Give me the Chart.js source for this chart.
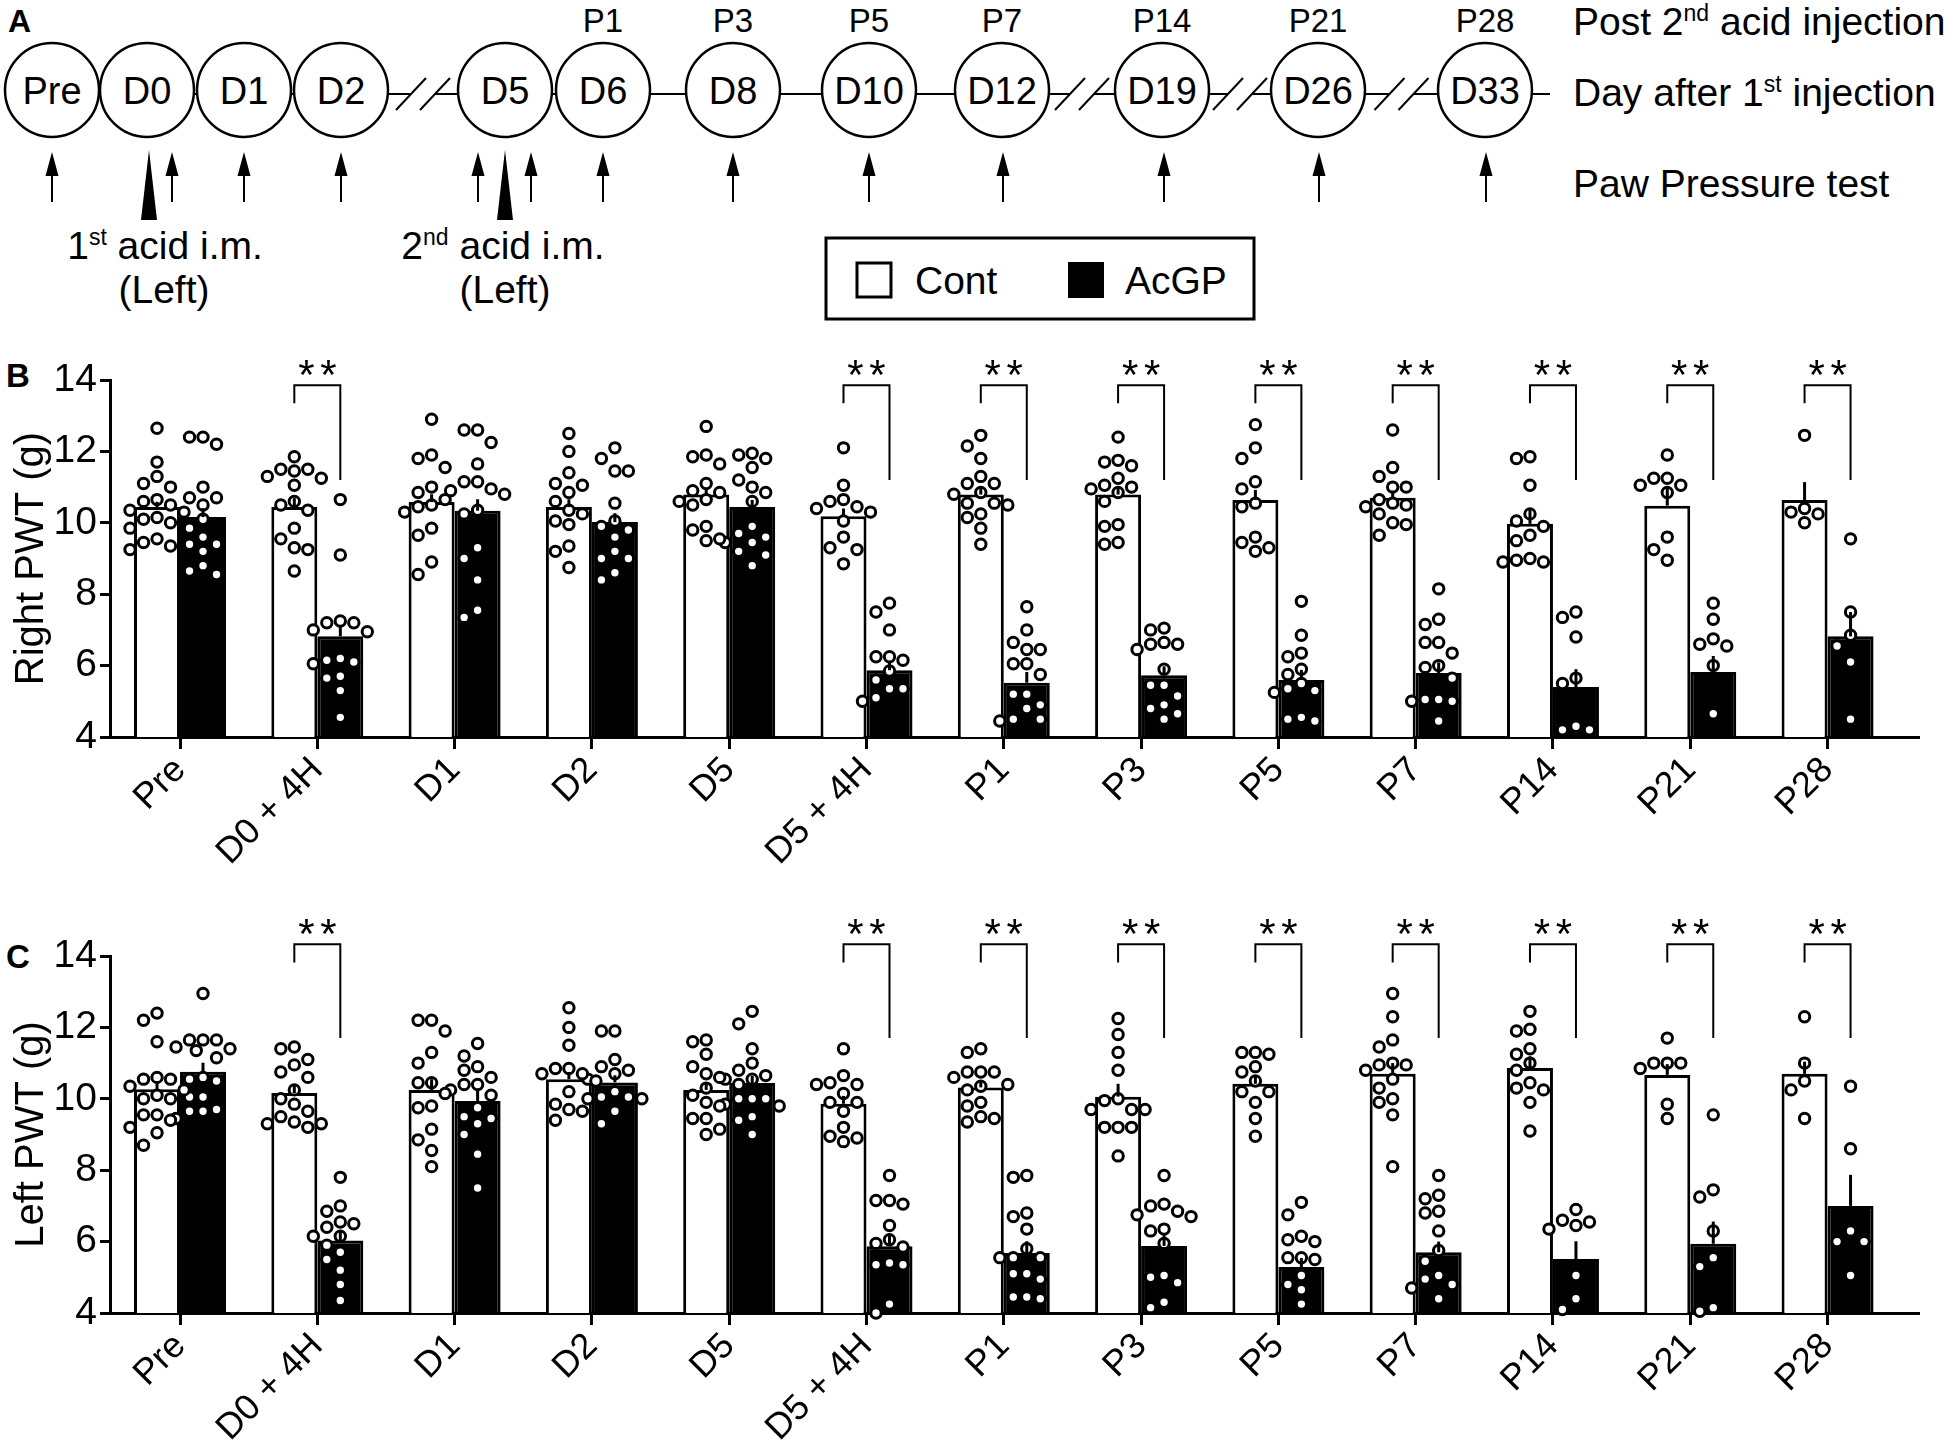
<!DOCTYPE html>
<html>
<head>
<meta charset="utf-8">
<title>Paw withdrawal threshold</title>
<script src="https://cdn.jsdelivr.net/npm/chart.js@4.4.1/dist/chart.umd.min.js"></script>
<style>
  body { margin: 0; background: #fff; }
  #page { position: relative; width: 1953px; height: 1456px; overflow: hidden; font-family: "Liberation Sans", Arial, sans-serif; }
  #page svg, #page canvas { position: absolute; left: 0; }
</style>
</head>
<body>
<div id="page">
  <svg id="art" width="1953" height="1456" style="top:0"></svg>
  <canvas id="chartB" width="1953" height="570" style="top:330px"></canvas>
  <canvas id="chartC" width="1953" height="556" style="top:900px"></canvas>
</div>
<script>
// ---- data ----
var labels = ['Pre', 'D0 + 4H', 'D1', 'D2', 'D5', 'D5 + 4H', 'P1', 'P3', 'P5', 'P7', 'P14', 'P21', 'P28'];
var yTicks = [4, 6, 8, 10, 12, 14];
var sigGroups = [1, 5, 6, 7, 8, 9, 10, 11, 12];

// B: right paw
var rightContMean = [10.44, 10.44, 10.58, 10.44, 10.79, 10.18, 10.79, 10.79, 10.64, 10.70, 9.97, 10.48, 10.64];
var rightContSem  = [0.15, 0.25, 0.22, 0.22, 0.15, 0.22, 0.18, 0.2, 0.28, 0.2, 0.42, 0.5, 0.5];
var rightAcgpMean = [10.16, 6.82, 10.34, 10.02, 10.44, 5.87, 5.52, 5.73, 5.60, 5.79, 5.40, 5.82, 6.82];
var rightAcgpSem  = [0.25, 0.3, 0.32, 0.25, 0.2, 0.22, 0.3, 0.25, 0.28, 0.3, 0.5, 0.45, 0.68];
var rightContDots = [
  [12.65, 11.7, 11.3, 11.1, 11.0, 10.65, 10.6, 10.5, 10.35, 10.3, 10.15, 10.1, 10.0, 9.85, 9.55, 9.45, 9.35, 9.25],
  [11.85, 11.5, 11.45, 11.5, 11.3, 11.25, 11.05, 10.5, 10.6, 10.35, 9.85, 9.55, 9.3, 9.25, 8.65],
  [12.9, 11.9, 11.8, 11.55, 11.0, 10.85, 10.65, 10.45, 10.5, 10.3, 9.85, 9.65, 8.9, 8.55],
  [12.5, 12.0, 11.4, 11.1, 11.05, 10.85, 10.6, 10.35, 10.25, 10.05, 9.95, 9.35, 9.2, 8.75],
  [12.7, 11.9, 11.65, 11.85, 11.1, 10.9, 10.65, 10.6, 10.5, 10.85, 9.8, 9.9, 9.5, 9.55],
  [12.1, 11.05, 10.65, 10.45, 10.6, 10.4, 10.3, 10.05, 9.3, 9.6, 9.25, 8.85],
  [12.45, 12.15, 11.8, 11.3, 11.1, 11.1, 10.85, 10.8, 10.55, 10.55, 10.5, 10.25, 10.15, 9.85, 9.4],
  [12.4, 11.7, 11.6, 11.75, 11.25, 11.05, 10.95, 11.0, 10.85, 10.6, 9.95, 9.9, 9.4, 9.45],
  [12.75, 12.1, 11.8, 10.95, 11.15, 10.55, 10.45, 9.45, 9.2, 9.3, 9.6],
  [12.6, 11.55, 11.3, 11.0, 11.0, 10.65, 10.5, 10.55, 10.45, 10.25, 10.0, 9.95, 9.65],
  [11.8, 11.85, 11.05, 10.25, 10.05, 9.9, 9.65, 9.5, 8.95, 8.9, 8.9, 9.0],
  [11.9, 11.25, 11.05, 11.05, 11.25, 10.85, 9.6, 9.25, 8.95],
  [12.45, 10.3, 10.0, 10.25, 10.4]
];
var rightAcgpDots = [
  [12.4, 12.2, 12.4, 11.0, 10.7, 10.7, 10.5, 10.1, 9.85, 9.6, 9.4, 9.4, 9.2, 8.8, 8.55, 8.65],
  [10.65, 9.1, 7.2, 7.25, 7.2, 7.0, 6.95, 6.15, 6.05, 6.1, 6.2, 5.65, 5.7, 5.3, 4.55],
  [12.6, 12.6, 12.25, 11.65, 11.15, 11.15, 10.95, 10.9, 10.8, 10.35, 10.25, 9.3, 9.0, 8.4, 7.55, 7.35],
  [12.1, 11.8, 11.45, 11.45, 10.55, 10.05, 9.9, 9.8, 9.6, 9.2, 9.0, 9.0, 8.6, 8.4],
  [11.95, 11.8, 11.9, 11.55, 11.2, 11.0, 10.85, 10.6, 9.7, 9.9, 9.45, 9.45, 9.6, 9.2, 9.1, 8.8],
  [7.75, 7.5, 7.0, 6.25, 6.25, 6.15, 5.85, 5.35, 5.35, 5.6, 5.0, 5.1],
  [7.65, 7.0, 6.65, 6.45, 6.45, 6.05, 6.05, 5.75, 5.2, 5.2, 4.9, 4.8, 4.5, 4.45, 4.5],
  [7.0, 7.05, 6.65, 6.6, 6.6, 6.45, 5.9, 5.45, 5.45, 5.15, 4.8, 4.9, 4.5, 4.65],
  [7.8, 6.85, 6.35, 6.25, 5.9, 5.75, 5.5, 5.35, 5.3, 5.25, 4.5, 4.45, 4.55],
  [8.15, 7.3, 7.15, 6.65, 6.65, 6.35, 6.0, 5.95, 5.65, 5.05, 5.0, 5.0, 5.05, 4.45],
  [7.5, 7.35, 6.8, 5.65, 5.5, 4.3, 4.2, 4.2],
  [7.75, 7.3, 6.75, 6.6, 6.55, 6.0, 4.65],
  [9.55, 7.5, 6.85, 6.55, 6.1, 4.5]
];

// C: left paw
var leftContMean = [10.27, 10.16, 10.25, 10.55, 10.25, 9.86, 10.32, 10.06, 10.42, 10.70, 10.86, 10.67, 10.70];
var leftContSem  = [0.22, 0.2, 0.3, 0.2, 0.2, 0.22, 0.15, 0.36, 0.2, 0.3, 0.33, 0.3, 0.34];
var leftAcgpMean = [10.76, 6.03, 9.94, 10.46, 10.44, 5.87, 5.68, 5.88, 5.29, 5.70, 5.51, 5.94, 7.00];
var leftAcgpSem  = [0.25, 0.25, 0.3, 0.2, 0.2, 0.3, 0.33, 0.3, 0.25, 0.3, 0.5, 0.62, 0.87];
var leftContDots = [
  [12.4, 12.2, 11.6, 10.55, 10.55, 10.6, 10.35, 10.25, 10.1, 10.0, 10.0, 9.55, 9.55, 9.4, 9.2, 9.05, 8.7],
  [11.4, 11.45, 11.1, 10.95, 10.75, 10.6, 10.25, 10.0, 9.85, 9.65, 9.5, 9.3, 9.3, 9.35, 9.2],
  [12.2, 11.9, 12.2, 11.3, 11.0, 10.45, 10.45, 10.15, 9.8, 9.75, 9.15, 8.85, 8.55, 8.1],
  [12.55, 12.0, 11.5, 10.85, 10.7, 10.7, 10.85, 10.5, 10.2, 9.85, 9.65, 9.7, 9.4],
  [11.6, 11.65, 11.25, 10.9, 10.7, 10.6, 10.3, 10.1, 9.9, 9.8, 9.45, 9.45, 9.15, 9.0],
  [11.4, 10.65, 10.4, 10.4, 10.45, 10.15, 9.9, 9.9, 9.65, 9.2, 8.9, 8.8, 8.95],
  [11.4, 11.3, 10.75, 10.75, 10.75, 10.6, 10.4, 10.25, 10.35, 9.9, 9.8, 9.5, 9.35, 9.45],
  [12.25, 11.8, 11.3, 10.8, 10.0, 9.95, 9.7, 9.7, 9.7, 9.2, 9.2, 9.2, 8.4],
  [11.3, 11.25, 11.3, 10.9, 10.75, 10.5, 10.2, 10.2, 9.9, 9.45, 8.95],
  [12.95, 12.3, 11.65, 11.45, 11.0, 10.95, 10.95, 10.8, 10.55, 10.3, 9.9, 10.0, 9.55, 8.1],
  [12.45, 11.9, 11.95, 11.4, 11.25, 11.0, 10.8, 10.25, 10.45, 10.3, 9.9, 9.1],
  [11.7, 11.0, 10.85, 11.0, 11.0, 9.85, 9.45],
  [12.3, 11.0, 10.5, 10.25, 9.45]
];
var leftAcgpDots = [
  [12.95, 11.65, 11.65, 11.65, 11.45, 11.35, 11.4, 11.15, 10.5, 10.55, 10.6, 10.05, 10.05, 9.7, 9.65, 9.45, 9.65],
  [7.8, 6.85, 7.0, 6.55, 6.5, 6.4, 6.15, 6.15, 5.9, 5.5, 5.2, 5.7, 4.8, 4.35],
  [11.55, 11.2, 10.8, 10.9, 10.4, 10.6, 10.4, 10.25, 10.1, 9.75, 9.5, 9.45, 9.3, 9.0, 8.45, 7.5],
  [11.9, 11.9, 11.1, 10.7, 10.9, 10.8, 10.55, 10.2, 10.05, 10.0, 10.05, 10.0, 9.65, 9.3],
  [12.45, 12.1, 11.4, 11.0, 10.8, 10.55, 10.55, 10.65, 10.4, 10.0, 10.0, 10.0, 9.85, 9.8, 9.5, 9.4, 9.0],
  [7.85, 7.15, 7.05, 7.15, 6.45, 6.05, 5.85, 5.95, 5.4, 5.35, 5.35, 4.25, 4.0],
  [7.8, 7.85, 6.7, 6.8, 6.35, 5.8, 5.55, 5.55, 5.55, 5.1, 4.95, 5.1, 4.45, 4.4, 4.45],
  [7.85, 7.05, 7.0, 6.85, 6.75, 6.7, 6.35, 6.3, 5.95, 5.0, 4.85, 5.05, 4.15, 4.3],
  [7.1, 6.75, 6.05, 6.0, 6.15, 5.55, 5.5, 5.55, 5.05, 4.65, 4.8, 4.25],
  [7.85, 7.2, 7.3, 6.8, 6.85, 6.3, 5.75, 5.45, 5.05, 4.7, 4.8, 4.95, 4.4],
  [6.9, 6.55, 6.35, 6.45, 6.6, 5.05, 4.4, 4.1],
  [9.55, 7.45, 7.25, 6.3, 5.55, 5.3, 4.05, 4.15],
  [10.35, 8.6, 6.0, 6.0, 6.3, 5.05]
];

// timeline (panel A)
var dayLabels  = ['Pre', 'D0', 'D1', 'D2', 'D5', 'D6', 'D8', 'D10', 'D12', 'D19', 'D26', 'D33'];
var postLabels = ['', '', '', '', '', 'P1', 'P3', 'P5', 'P7', 'P14', 'P21', 'P28'];
var breakAfter = [3, 8, 9, 10];

// ---- layout ----
var FONT = '"Liberation Sans", Arial, sans-serif';
var nodeX = [52, 147, 244, 341, 505, 603, 733, 869, 1002, 1162, 1318, 1485];
var arrowX = [52, 172, 244, 341, 478, 531, 603, 733, 869, 1003, 1164, 1319, 1486];
var injectX = [149, 505];
var SHIFT = 0.1675;        // half a bar, in category units
var PX_X = 137.3, PX_Y = 35.7, DOT = 13.5;

Chart.defaults.font.family = FONT;
Chart.defaults.color = '#000';

// ---- panel A, legend and panel letters as svg ----
var NS = 'http://www.w3.org/2000/svg';
var svg = document.getElementById('art');
function el(name, attrs, text) {
  var e = document.createElementNS(NS, name);
  for (var k in attrs) e.setAttribute(k, attrs[k]);
  if (text !== undefined) e.textContent = text;
  svg.appendChild(e);
  return e;
}
function txt(x, y, s, size, anchor, weight) {
  return el('text', {x: x, y: y, 'font-size': size, 'font-family': FONT, 'text-anchor': anchor || 'middle',
    'font-weight': weight || 'normal', fill: '#000'}, s);
}
function supText(x, y, a, sup, b, size, anchor) {
  var t = txt(x, y, '', size, anchor);
  var s1 = document.createElementNS(NS, 'tspan'); s1.textContent = a; t.appendChild(s1);
  var s2 = document.createElementNS(NS, 'tspan'); s2.textContent = sup;
  s2.setAttribute('font-size', Math.round(size * 0.6)); s2.setAttribute('dy', -Math.round(size * 0.36)); t.appendChild(s2);
  var s3 = document.createElementNS(NS, 'tspan'); s3.textContent = b; s3.setAttribute('dy', Math.round(size * 0.36)); t.appendChild(s3);
}
function line(x1, y1, x2, y2, w) {
  el('line', {x1: x1, y1: y1, x2: x2, y2: y2, stroke: '#000', 'stroke-width': w || 2});
}

var R = 47, CY = 90, LY = 94;
txt(8, 32, 'A', 32, 'start', 'bold');
dayLabels.forEach(function (d, i) {
  el('circle', {cx: nodeX[i], cy: CY, r: R, fill: '#fff', stroke: '#000', 'stroke-width': 2.5});
  txt(nodeX[i], CY + 14, d, 38);
  if (postLabels[i]) txt(nodeX[i], 32, postLabels[i], 33);
  if (i < dayLabels.length - 1) {
    var a = nodeX[i] + R, b = nodeX[i + 1] - R;
    if (b - a < 2) return;
    if (breakAfter.indexOf(i) >= 0) {
      var m = (a + b) / 2;
      line(a, LY, m - 12, LY); line(m + 12, LY, b, LY);
      line(m - 27, LY + 16, m + 3, LY - 16); line(m - 3, LY + 16, m + 27, LY - 16);
    } else {
      line(a, LY, b, LY);
    }
  }
});
line(nodeX[nodeX.length - 1] + R, LY, nodeX[nodeX.length - 1] + R + 18, LY);

arrowX.forEach(function (x) {
  line(x, 202, x, 165, 2);
  el('polygon', {points: [x, 152, x - 6.5, 176, x + 6.5, 176].join(' '), fill: '#000'});
});
injectX.forEach(function (x) {
  el('polygon', {points: [x, 150, x - 8, 220, x + 8, 220].join(' '), fill: '#000'});
});
supText(165, 259, '1', 'st', ' acid i.m.', 39);
txt(164, 303, '(Left)', 39);
supText(503, 259, '2', 'nd', ' acid i.m.', 39);
txt(505, 303, '(Left)', 39);

supText(1573, 35, 'Post 2', 'nd', ' acid injection', 39, 'start');
supText(1573, 106, 'Day after 1', 'st', ' injection', 39, 'start');
txt(1573, 197, 'Paw Pressure test', 39, 'start');

// legend
el('rect', {x: 826, y: 238, width: 428, height: 81, fill: 'none', stroke: '#000', 'stroke-width': 3});
el('rect', {x: 857, y: 263, width: 34, height: 34, fill: '#fff', stroke: '#000', 'stroke-width': 3});
txt(915, 294, 'Cont', 39, 'start');
el('rect', {x: 1068, y: 262, width: 36, height: 36, fill: '#000'});
txt(1125, 294, 'AcGP', 39, 'start');

txt(6, 387, 'B', 33, 'start', 'bold');
txt(6, 968, 'C', 33, 'start', 'bold');

// ---- dot placement: simple deterministic swarm inside each bar ----
function swarm(vals) {
  var placed = [], out = [];
  var order = vals.map(function (v, k) { return k; }).sort(function (a, b) { return vals[b] - vals[a]; });
  var slots = [0, -1, 1, -2, 2, -0.5, 0.5, -1.5, 1.5];
  order.forEach(function (k) {
    var y = vals[k] * PX_Y, best = 0, bestGap = -1;
    for (var s = 0; s < slots.length; s++) {
      var x = slots[s] * DOT, gap = Infinity;
      placed.forEach(function (p) { gap = Math.min(gap, Math.hypot(p.x - x, p.y - y)); });
      if (gap >= DOT) { best = x; break; }
      if (gap > bestGap) { bestGap = gap; best = x; }
    }
    placed.push({x: best, y: y});
    out[k] = best / PX_X;
  });
  return out;
}
function dotPoints(groups, shift) {
  var pts = [];
  groups.forEach(function (vals, i) {
    var offs = swarm(vals);
    vals.forEach(function (v, k) { pts.push({x: i + shift + offs[k], y: v}); });
  });
  return pts;
}

// ---- plugins ----
var errorBars = {
  id: 'errorBars',
  afterDatasetsDraw: function (chart) {
    var ctx = chart.ctx, y = chart.scales.y;
    ctx.save();
    ctx.strokeStyle = '#000';
    ctx.lineWidth = 3;
    chart.data.datasets.forEach(function (ds, di) {
      if (!ds.sem) return;
      chart.getDatasetMeta(di).data.forEach(function (bar, i) {
        var top = y.getPixelForValue(ds.data[i].y + ds.sem[i]);
        ctx.beginPath();
        ctx.moveTo(bar.x, bar.y);
        ctx.lineTo(bar.x, top);
        ctx.stroke();
      });
    });
    ctx.restore();
  }
};
function brackets(level) {
  return {
    id: 'brackets',
    afterDraw: function (chart) {
      var ctx = chart.ctx, x = chart.scales.x, y = chart.scales.y;
      ctx.save();
      ctx.strokeStyle = '#000';
      ctx.fillStyle = '#000';
      ctx.lineWidth = 2;
      ctx.font = '42px ' + FONT;
      ctx.textAlign = 'center';
      ctx.textBaseline = 'alphabetic';
      sigGroups.forEach(function (i) {
        var xl = x.getPixelForValue(i - SHIFT), xr = x.getPixelForValue(i + SHIFT);
        var yt = y.getPixelForValue(level.top), xm = (xl + xr) / 2;
        ctx.beginPath();
        ctx.moveTo(xl, y.getPixelForValue(level.left));
        ctx.lineTo(xl, yt);
        ctx.lineTo(xr, yt);
        ctx.lineTo(xr, y.getPixelForValue(level.right));
        ctx.stroke();
        ctx.fillText('*', xm - 11, yt + 4);
        ctx.fillText('*', xm + 11, yt + 4);
      });
      ctx.restore();
    }
  };
}

function makePanel(id, title, contMean, contSem, acgpMean, acgpSem, contDots, acgpDots, padTop, axisH, level) {
  function bars(mean) { return mean.map(function (v, i) { return {x: i, y: v}; }); }
  var dotStyle = {type: 'scatter', pointRadius: 5.2, pointBorderWidth: 3, pointBackgroundColor: '#fff',
    pointBorderColor: '#000', pointHoverRadius: 5.2, order: 1, clip: false};
  return new Chart(document.getElementById(id).getContext('2d'), {
    type: 'bar',
    data: {
      datasets: [
        {label: 'Cont', data: bars(contMean), sem: contSem, backgroundColor: '#fff', borderColor: '#000',
          borderWidth: 3, categoryPercentage: 0.67, barPercentage: 1, order: 2},
        {label: 'AcGP', data: bars(acgpMean), sem: acgpSem, backgroundColor: '#000', borderColor: '#000',
          borderWidth: 3, categoryPercentage: 0.67, barPercentage: 1, order: 2},
        Object.assign({label: 'Cont dots', data: dotPoints(contDots, -SHIFT)}, dotStyle),
        Object.assign({label: 'AcGP dots', data: dotPoints(acgpDots, SHIFT)}, dotStyle)
      ]
    },
    options: {
      responsive: false,
      animation: false,
      devicePixelRatio: 1,
      layout: {padding: {top: padTop, right: 34, left: 0, bottom: 0}},
      plugins: {legend: {display: false}, tooltip: {enabled: false}},
      scales: {
        x: {
          type: 'linear', min: -0.51, max: 12.666, offset: false,
          afterFit: function (s) { s.height = axisH; },
          afterBuildTicks: function (s) { s.ticks = labels.map(function (l, i) { return {value: i}; }); },
          ticks: {callback: function (v) { return labels[v]; }, autoSkip: false, maxRotation: 45, minRotation: 45,
            font: {size: 36}, color: '#000', padding: 0},
          grid: {drawOnChartArea: false, offset: false, tickLength: 12, tickWidth: 3, tickColor: '#000'},
          border: {color: '#000', width: 3}
        },
        y: {
          min: 4, max: 14,
          afterFit: function (s) { s.width = 110; },
          afterBuildTicks: function (s) { s.ticks = yTicks.map(function (v) { return {value: v}; }); },
          ticks: {font: {size: 39}, color: '#000', padding: 3},
          grid: {drawOnChartArea: false, tickLength: 10, tickWidth: 3, tickColor: '#000'},
          border: {color: '#000', width: 3},
          title: {display: true, text: title, font: {size: 40}, color: '#000', padding: {top: 8, bottom: 0}}
        }
      }
    },
    plugins: [errorBars, brackets(level)]
  });
}

makePanel('chartB', 'Right PWT (g)', rightContMean, rightContSem, rightAcgpMean, rightAcgpSem,
  rightContDots, rightAcgpDots, 50, 163, {top: 13.85, left: 13.35, right: 11.2});
makePanel('chartC', 'Left PWT (g)', leftContMean, leftContSem, leftAcgpMean, leftAcgpSem,
  leftContDots, leftAcgpDots, 56, 143, {top: 14.33, left: 13.82, right: 11.7});
</script>
</body>
</html>
